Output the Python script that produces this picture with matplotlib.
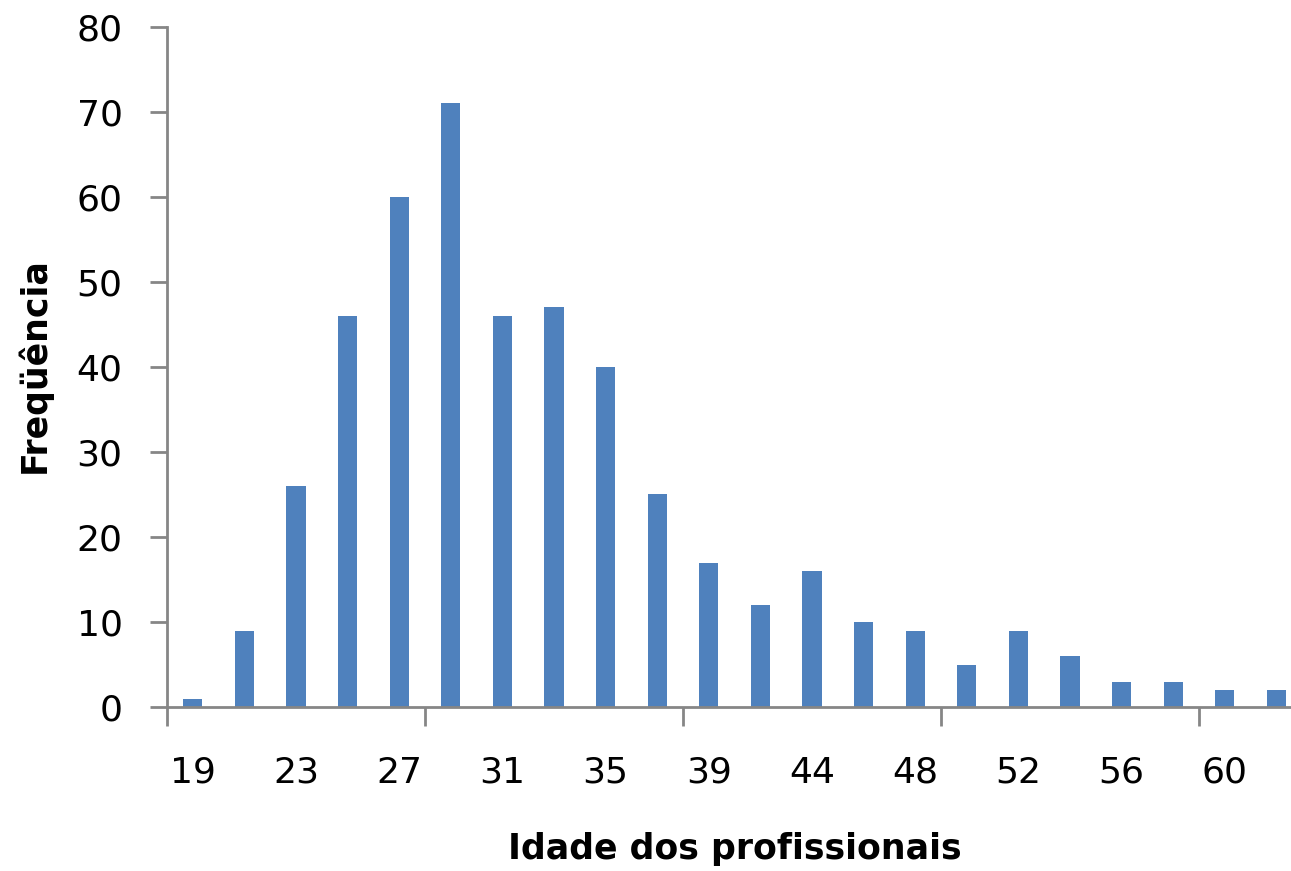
import matplotlib.pyplot as plt
import numpy as np

# faixas de idade (a cada 2 anos) e frequência
idades = ['19', '21', '23', '25', '27', '29', '31', '33', '35', '37', '39',
          '42', '44', '46', '48', '50', '52', '54', '56', '58', '60', '62']
frequencia = [1, 9, 26, 46, 60, 71, 46, 47, 40, 25, 17,
              12, 16, 10, 9, 5, 9, 6, 3, 3, 2, 2]

W, H = 1291, 871
fig = plt.figure(figsize=(W / 100, H / 100), dpi=100)

# eixo começa em x=167 px e vai além da borda direita (gráfico cortado)
n = len(idades)
step = 51.6
left, right = 167, 167 + n * step
top, bottom = 27, 707
ax = fig.add_axes([left / W, 1 - bottom / H, (right - left) / W, (bottom - top) / H])

grey = '#868686'
x = np.arange(n)
ax.bar(x, frequencia, width=0.37, color='#4F81BD')

ax.set_xlim(-0.5, n - 0.5)
ax.set_ylim(0, 80)
ax.set_yticks(range(0, 81, 10))

# marcas a cada 5 categorias, rótulos a cada 2
ax.set_xticks(np.arange(-0.5, n, 5))
ax.set_xticklabels([])
ax.set_xticks(x[::2], minor=True)
ax.set_xticklabels(idades[::2], minor=True)

for s in ['top', 'right']:
    ax.spines[s].set_visible(False)
for s in ['left', 'bottom']:
    ax.spines[s].set_color(grey)
    ax.spines[s].set_linewidth(2)

ax.tick_params(axis='y', length=12, width=2, color=grey, pad=20, labelsize=26)
ax.tick_params(axis='x', which='major', length=14, width=2, color=grey)
ax.tick_params(axis='x', which='minor', length=0, pad=35, labelsize=26)

ax.set_ylabel('Freqüência', fontsize=25, fontweight='bold')
ax.set_xlabel('Idade dos profissionais', fontsize=25, fontweight='bold')
ax.xaxis.set_label_coords((735 - left) / (right - left), -(832 - bottom) / (bottom - top))
ax.yaxis.set_label_coords(-(167 - 52) / (right - left), (707 - 365) / (bottom - top))

fig.savefig('out.png', dpi=100)
